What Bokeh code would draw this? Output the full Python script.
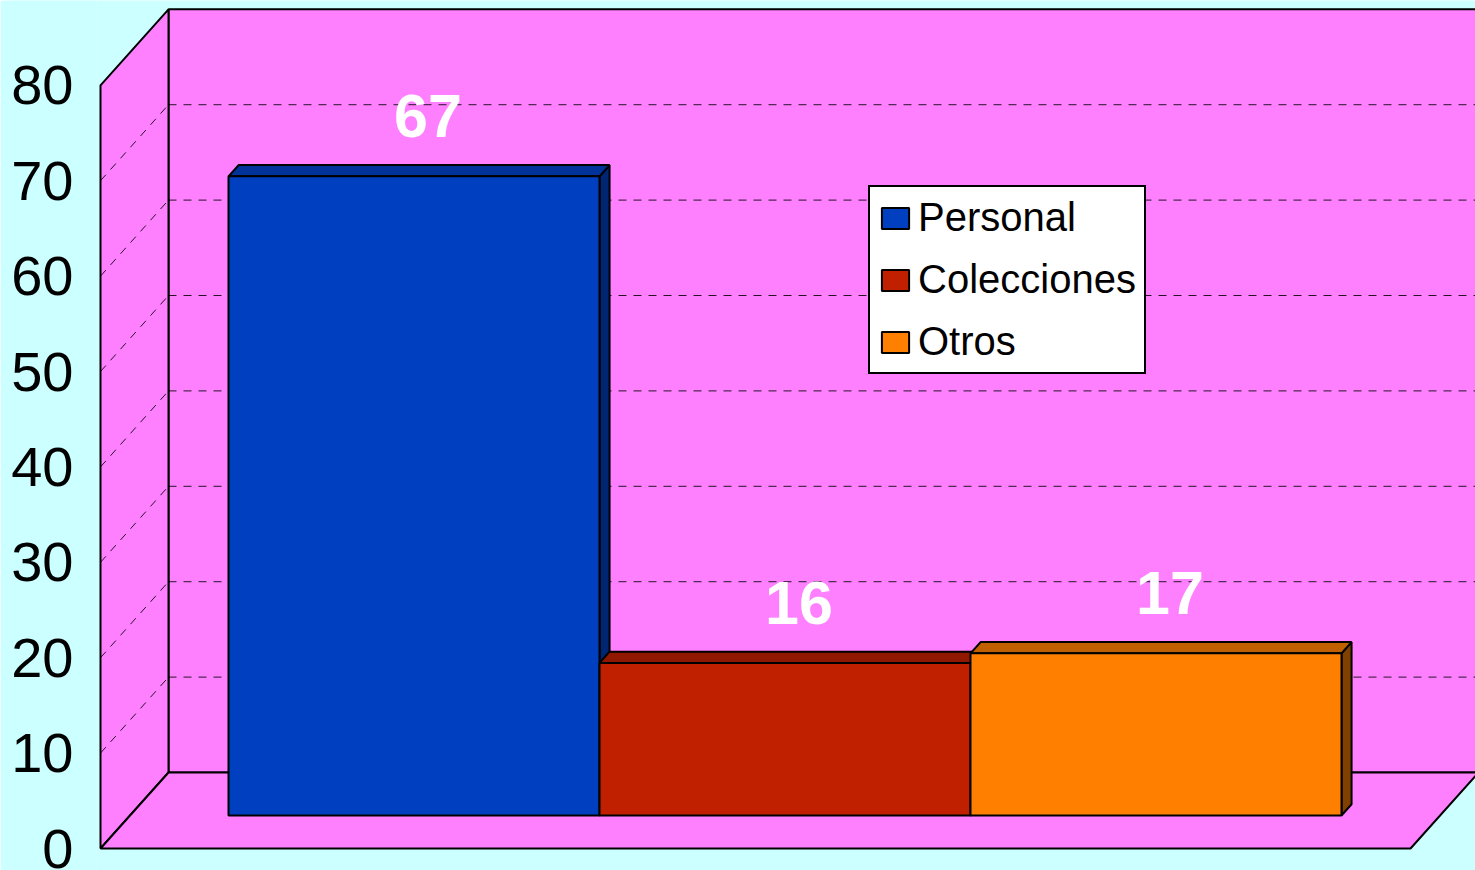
from bokeh.plotting import figure
from bokeh.models import Range1d, Legend, LegendItem, ColumnDataSource, FixedTicker
from bokeh.embed import file_html
from bokeh.resources import INLINE
from bokeh.core.properties import value

# ---- data ----
categories = ["Personal", "Colecciones", "Otros"]
values = [67, 16, 17]
value_labels = ["67", "16", "17"]
y_ticks = [0, 10, 20, 30, 40, 50, 60, 70, 80]
front_colors = ["#0040C0", "#C02000", "#FF8000"]
top_colors = ["#003399", "#901800", "#C06000"]
side_colors = ["#002673", "#701400", "#804000"]

# ---- 3D geometry (layout constants) ----
DX = 0.1833          # full depth shift along x (bar-width units)
DY = 7.966           # full depth shift along y (value units)
F0, F1 = 0.434, 0.582  # bar front / back depth fractions
WALL_X0 = -0.345     # left edge of floor / left wall (front)
WALL_X1 = 3.186      # right edge of floor (front)
WALL_FAR = 3.8       # back wall continues beyond frame
WALL_TOP = 80

p = figure(width=1475, height=870, output_backend="svg", toolbar_location=None,
           x_range=Range1d(-0.35580, 3.36118), y_range=Range1d(-2.306, 88.889),
           min_border=0, min_border_left=96)
p.min_border_top = 0
p.min_border_right = 0
p.min_border_bottom = 0
p.background_fill_color = "#CCFFFF"
p.border_fill_color = "#CCFFFF"
p.outline_line_color = None
p.grid.visible = False
p.xaxis.visible = False

ax = p.yaxis[0]
ax.ticker = FixedTicker(ticks=y_ticks)
ax.axis_line_color = None
ax.major_tick_line_color = None
ax.minor_tick_line_color = None
ax.major_label_text_font = "Liberation Sans"
ax.major_label_text_font_size = "56px"
ax.major_label_text_color = "black"
ax.major_label_standoff = 17
ax.background_fill_color = "#CCFFFF"

wall_kw = dict(fill_color="#FF80FF", line_color="black", line_width=2)
# back wall
p.patch([WALL_X0 + DX, WALL_FAR, WALL_FAR, WALL_X0 + DX],
        [DY, DY, WALL_TOP + DY, WALL_TOP + DY], **wall_kw)
# left wall
p.patch([WALL_X0, WALL_X0 + DX, WALL_X0 + DX, WALL_X0],
        [0, DY, WALL_TOP + DY, WALL_TOP], **wall_kw)
# floor
p.patch([WALL_X0, WALL_X1, WALL_X1 + DX, WALL_X0 + DX],
        [0, 0, DY, DY], **wall_kw)

# gridlines
grid_vals = [t for t in y_ticks if 0 < t < WALL_TOP]
p.multi_line([[WALL_X0 + DX, WALL_FAR] for v in grid_vals],
             [[v + DY, v + DY] for v in grid_vals],
             line_color="black", line_width=1, line_dash="8 7", line_alpha=0.85)
p.multi_line([[WALL_X0, WALL_X0 + DX] for v in grid_vals],
             [[v, v + DY] for v in grid_vals],
             line_color="black", line_width=1, line_dash="8 7", line_alpha=0.85)

# bars
dx = (F1 - F0) * DX
dy = (F1 - F0) * DY
base = F0 * DY
side_xs, side_ys, top_xs, top_ys = [], [], [], []
for i, v in enumerate(values):
    top = base + v
    side_xs.append([i + 1, i + 1 + dx, i + 1 + dx, i + 1])
    side_ys.append([base, base + dy, top + dy, top])
    top_xs.append([i, i + 1, i + 1 + dx, i + dx])
    top_ys.append([top, top, top + dy, top + dy])

p.patches(side_xs, side_ys, fill_color=side_colors, line_color="black", line_width=2)
p.patches(top_xs, top_ys, fill_color=top_colors, line_color="black", line_width=2)

front_src = ColumnDataSource(dict(
    left=[i for i in range(len(values))],
    right=[i + 1 for i in range(len(values))],
    bottom=[base] * len(values),
    top=[base + v for v in values],
    color=front_colors,
    cat=categories,
))
fronts = p.quad(left="left", right="right", bottom="bottom", top="top", source=front_src,
                fill_color="color", line_color="black", line_width=2)

# value labels
lab_src = ColumnDataSource(dict(
    x=[i + 0.5 + dx / 2 for i in range(len(values))],
    y=[v + base + dy for v in values],
    t=value_labels,
))
p.text(x="x", y="y", text="t", source=lab_src, text_font=value("Liberation Sans"),
       text_font_style="bold", text_font_size="61px", text_color="white",
       text_align="center", text_baseline="middle", x_offset=9, y_offset=-49)

legend = Legend(items=[LegendItem(label=c, renderers=[fronts], index=i)
                       for i, c in enumerate(categories)],
                location=(772, 496))
legend.background_fill_color = "white"
legend.background_fill_alpha = 1.0
legend.border_line_color = "black"
legend.border_line_width = 2
legend.border_line_alpha = 1.0
legend.label_text_font = "Liberation Sans"
legend.label_text_font_size = "40px"
legend.label_text_color = "black"
legend.glyph_width = 34
legend.glyph_height = 26
legend.label_standoff = 6
legend.padding = 8
legend.spacing = 17
legend.margin = 0
p.add_layout(legend)

html = file_html(p, INLINE)
html = html.replace("<body>", '<body style="margin:0;overflow:hidden;background-color:#CCFFFF;">', 1)
open("out.html", "w").write(html)
